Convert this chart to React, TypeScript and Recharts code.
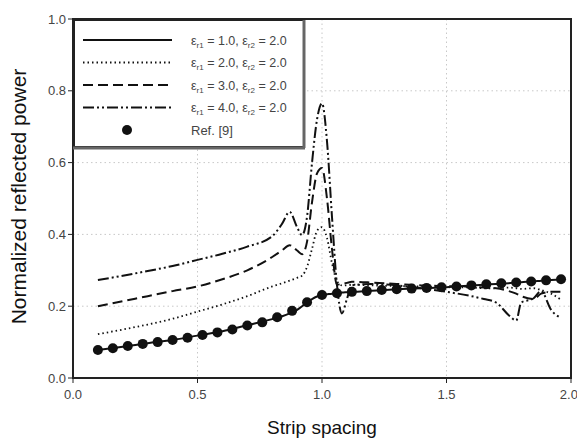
import { CartesianGrid, ComposedChart, Legend, Line, ReferenceArea, XAxis, YAxis } from "recharts"

// strip spacing samples shared by the four computed curves
const xs = [
  0.1, 0.2, 0.3, 0.4, 0.5, 0.6, 0.7, 0.8, 0.84, 0.87, 0.9, 0.92, 0.94, 0.96, 0.98, 1.0,
  1.02, 1.04, 1.06, 1.08, 1.1, 1.12, 1.2, 1.3, 1.4, 1.5, 1.6, 1.65, 1.7, 1.75, 1.78, 1.8,
  1.85, 1.88, 1.92, 1.96,
]

const er1_10 = [
  0.078, 0.087, 0.097, 0.106, 0.118, 0.13, 0.147, 0.164, 0.172, 0.18, 0.19, 0.2, 0.211, 0.22,
  0.227, 0.231, 0.233, 0.235, 0.236, 0.238, 0.239, 0.24, 0.243, 0.247, 0.25, 0.253, 0.258,
  0.26, 0.262, 0.264, 0.266, 0.267, 0.269, 0.271, 0.273, 0.275,
]

const er1_20 = [
  0.122, 0.135, 0.149, 0.165, 0.185, 0.205, 0.228, 0.255, 0.264, 0.271, 0.279, 0.285, 0.31,
  0.36, 0.41, 0.42, 0.39, 0.32, 0.27, 0.258, 0.258, 0.26, 0.258, 0.256, 0.255, 0.253, 0.252,
  0.25, 0.25, 0.252, 0.25, 0.248, 0.25, 0.245, 0.235, 0.218,
]

const er1_30 = [
  0.2, 0.214, 0.228, 0.242, 0.255, 0.275, 0.3, 0.337, 0.356, 0.37, 0.355, 0.345, 0.38, 0.49,
  0.57, 0.585, 0.5, 0.36, 0.26, 0.262, 0.265, 0.268, 0.266, 0.262, 0.258, 0.256, 0.254,
  0.252, 0.25, 0.242, 0.235, 0.228, 0.22, 0.235, 0.24, 0.24,
]

const er1_40 = [
  0.273, 0.285, 0.298, 0.312, 0.329, 0.346, 0.366, 0.395, 0.43, 0.463, 0.42, 0.398, 0.45,
  0.6, 0.72, 0.765, 0.66, 0.45, 0.26, 0.18, 0.22, 0.258, 0.262, 0.258, 0.25, 0.24, 0.228,
  0.22, 0.21, 0.175, 0.16, 0.21, 0.222, 0.242, 0.19, 0.167,
]

// Ref. [9] markers
const refX = [
  0.1, 0.16, 0.22, 0.28, 0.34, 0.4, 0.46, 0.52, 0.58, 0.64, 0.7, 0.76, 0.82, 0.88, 0.94, 1.0,
  1.06, 1.12, 1.18, 1.24, 1.3, 1.36, 1.42, 1.48, 1.54, 1.6, 1.66, 1.72, 1.78, 1.84, 1.9, 1.96,
]
const refY = [
  0.078, 0.083, 0.089, 0.095, 0.1, 0.106, 0.112, 0.12, 0.127, 0.135, 0.146, 0.155, 0.169,
  0.187, 0.211, 0.231, 0.236, 0.24, 0.242, 0.245, 0.247, 0.249, 0.251, 0.253, 0.255, 0.258,
  0.261, 0.264, 0.266, 0.269, 0.272, 0.275,
]

const eps1 = ["1.0", "2.0", "3.0", "4.0"]
const eps2 = "2.0"
const refLabel = "Ref. [9]"
const xTicks = [0, 0.5, 1.0, 1.5, 2.0]
const yTicks = [0, 0.2, 0.4, 0.6, 0.8, 1.0]

const curves = [er1_10, er1_20, er1_30, er1_40]
const data = xs.map((x, i) => ({
  x,
  c0: curves[0][i],
  c1: curves[1][i],
  c2: curves[2][i],
  c3: curves[3][i],
}))
const refData = refX.map((x, i) => ({ x, ref: refY[i] }))

const ink = "#111"
const font = "'Liberation Sans', Arial, sans-serif"
const dashes = [undefined, "1.5 3", "10 5", "11 3 2 3 2 3"]
const widths = [2, 1.8, 2, 2]

function LegendBox() {
  const rowY = (i: number) => 21 + i * 22.5
  return (
    <svg width={234} height={131} style={{ display: "block" }}>
      <rect x={1} y={1} width={230} height={127} fill="#fff" stroke="#222" strokeWidth={2} />
      <line x1={231} y1={1} x2={231} y2={129} stroke="#666" strokeWidth={3} />
      <line x1={0} y1={129} x2={232} y2={129} stroke="#666" strokeWidth={3} />
      {eps1.map((e, i) => (
        <g key={e}>
          <line
            x1={10}
            x2={99}
            y1={rowY(i)}
            y2={rowY(i)}
            stroke={ink}
            strokeWidth={widths[i]}
            strokeDasharray={dashes[i]}
          />
          <text x={118} y={rowY(i) + 4.5} fontSize={12.5} fill="#444" fontFamily={font}>
            ε<tspan fontSize={8} dy={3}>r1</tspan>
            <tspan dy={-3}>{` = ${e}, ε`}</tspan>
            <tspan fontSize={8} dy={3}>r2</tspan>
            <tspan dy={-3}>{` = ${eps2}`}</tspan>
          </text>
        </g>
      ))}
      <circle cx={54} cy={rowY(4)} r={5} fill={ink} />
      <text x={118} y={rowY(4) + 4.5} fontSize={13} fill="#444" fontFamily={font}>
        {refLabel}
      </text>
    </svg>
  )
}

export default function App() {
  return (
    <div style={{ position: "absolute", left: 0, top: 0, background: "#fff" }}>
      <ComposedChart
        width={577}
        height={438}
        margin={{ top: 19, right: 6, bottom: 0, left: 0 }}
        style={{ fontFamily: font }}
      >
        <CartesianGrid stroke="#c8c8c8" strokeDasharray="1.5 3" />
        <XAxis
          dataKey="x"
          type="number"
          domain={[0, 2]}
          ticks={xTicks}
          tickFormatter={(v: number) => v.toFixed(1)}
          height={60}
          allowDuplicatedCategory={false}
          stroke="#222"
          tick={{ fill: "#444", fontSize: 13 }}
          tickSize={5}
          tickMargin={7}
          axisLine={{ stroke: "#222", strokeWidth: 2 }}
          label={{ value: "Strip spacing", position: "insideBottom", offset: 4, fontSize: 19, fill: "#111" }}
        />
        <YAxis
          type="number"
          domain={[0, 1]}
          ticks={yTicks}
          tickFormatter={(v: number) => v.toFixed(1)}
          width={73}
          stroke="#222"
          tick={{ fill: "#444", fontSize: 13 }}
          tickSize={5}
          axisLine={{ stroke: "#222", strokeWidth: 2 }}
          label={{
            value: "Normalized reflected power",
            angle: -90,
            position: "center",
            dx: -18,
            dy: -2,
            fontSize: 21,
            fill: "#111",
          }}
        />
        <ReferenceArea x1={0} x2={2} y1={0} y2={1} fill="none" stroke="#222" strokeWidth={2} />
        {curves.map((_, i) => (
          <Line
            key={i}
            data={data}
            dataKey={`c${i}`}
            type="monotone"
            stroke={ink}
            strokeWidth={widths[i]}
            strokeDasharray={dashes[i]}
            dot={false}
            activeDot={false}
            isAnimationActive={false}
          />
        ))}
        <Line
          data={refData}
          dataKey="ref"
          stroke="none"
          dot={{ r: 5, fill: ink, stroke: ink, strokeWidth: 0 }}
          activeDot={false}
          isAnimationActive={false}
        />
        <Legend
          layout="horizontal"
          verticalAlign="middle"
          align="center"
          wrapperStyle={{ position: "absolute", left: 73, top: 19, width: 234, height: 131 }}
          content={() => <LegendBox />}
        />
      </ComposedChart>
    </div>
  )
}
